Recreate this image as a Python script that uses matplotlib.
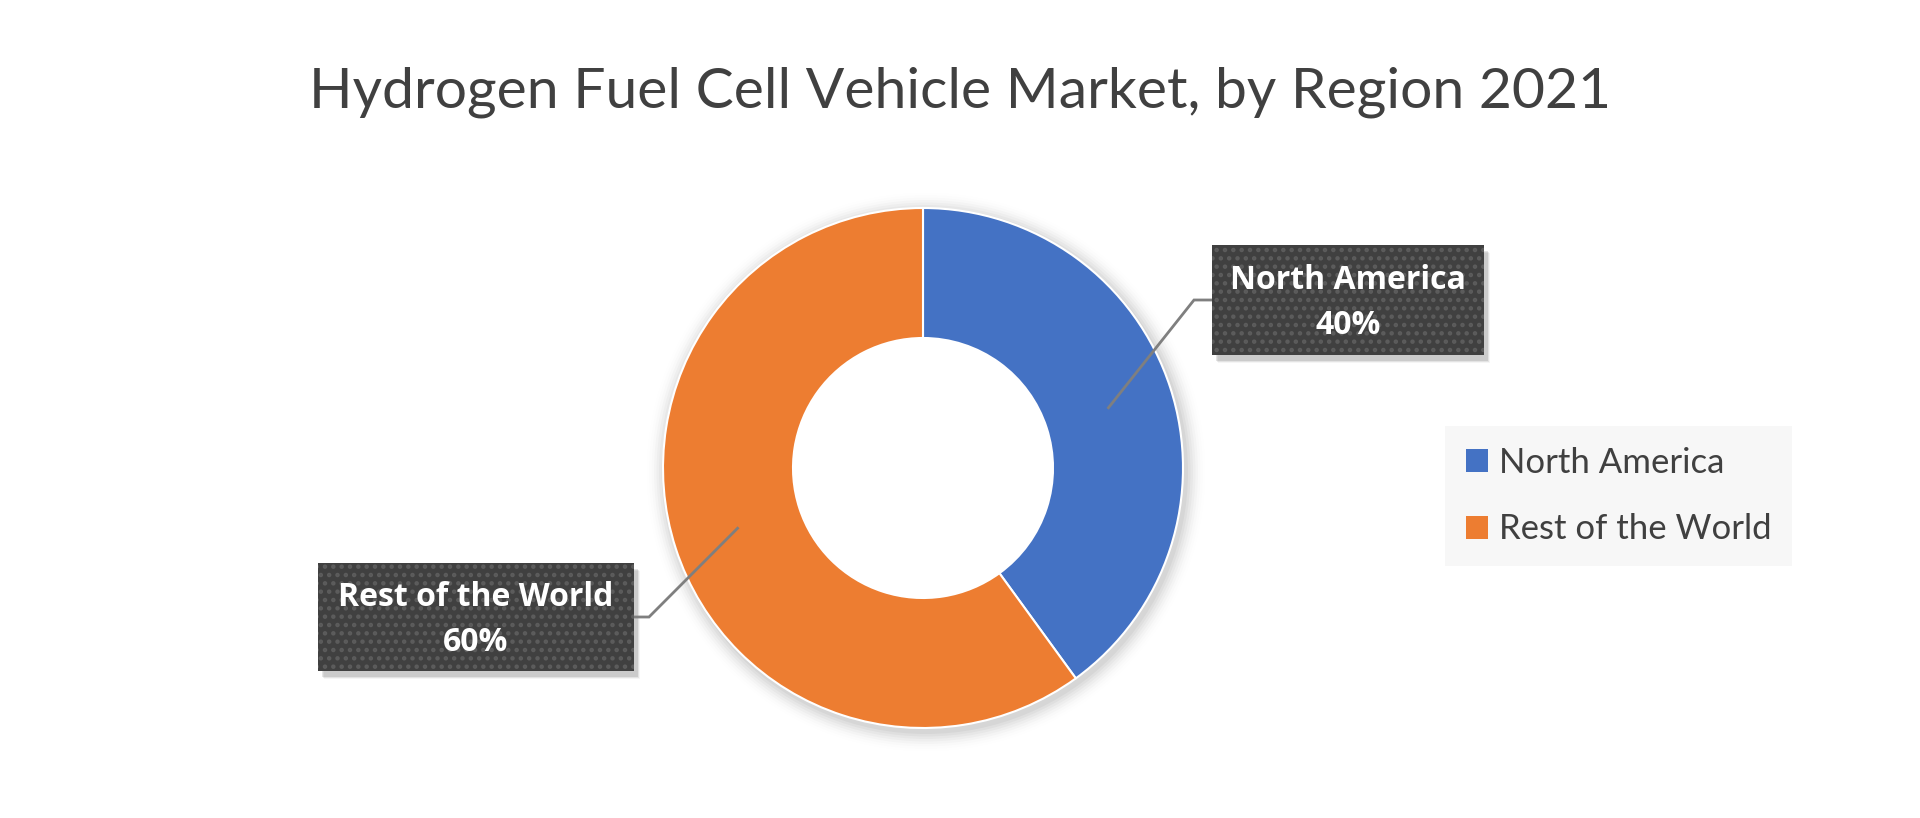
import numpy as np
import matplotlib
matplotlib.use("Agg")
import matplotlib.pyplot as plt
from matplotlib.patches import Rectangle, Circle

# data
regions = ["North America", "Rest of the World"]
shares = [40, 60]
colors = ["#4472C4", "#ED7D31"]
title = "Hydrogen Fuel Cell Vehicle Market, by Region 2021"

plt.rcParams["hatch.linewidth"] = 2.0

W, H = 1920, 818
fig = plt.figure(figsize=(W / 100, H / 100), dpi=100, facecolor="white")
ax = fig.add_axes([0, 0, 1, 1])

cx, cy, R = 923, H - 468, 260

# soft shadow round the donut
for i, a in enumerate(np.linspace(0.035, 0.005, 8)):
    ax.add_patch(Circle((cx + 3, cy - 4), R + 2 + i * 2.5, color="black", alpha=a, lw=0, zorder=1))
ax.add_patch(Circle((cx, cy), R * 0.5, color="white", zorder=1.5))

wedges, _ = ax.pie(shares, colors=colors, startangle=90, counterclock=False,
                   radius=R, center=(cx, cy), frame=True,
                   wedgeprops=dict(width=R * 0.5, edgecolor="white", linewidth=1.5))
for w in wedges:
    w.set_zorder(2)
ax.set_xlim(0, W)
ax.set_ylim(0, H)
ax.set_aspect("equal")
ax.axis("off")

# label boxes: (x0, y0 top in image px, w, h), side where the leader attaches
boxes = [(1212, 245, 272, 110, "left"), (318, 563, 316, 108, "right")]
total = sum(shares)
start = 90.0
for (bx, by, bw, bh, side), name, val in zip(boxes, regions, shares):
    sweep = 360.0 * val / total
    mid = np.deg2rad(start - sweep / 2)
    start -= sweep
    px, py = cx + 0.75 * R * np.cos(mid), cy + 0.75 * R * np.sin(mid)
    y0 = H - by - bh
    # shadow
    for k, a in enumerate([0.10, 0.07, 0.04]):
        ax.add_patch(Rectangle((bx + 4 + k, y0 - 6 - k), bw, bh, color="black", alpha=a, lw=0, zorder=3))
    ax.add_patch(Rectangle((bx, y0), bw, bh, facecolor="#404040", edgecolor="none", zorder=4))
    ax.add_patch(Rectangle((bx, y0), bw, bh, facecolor="none", edgecolor="#5c5c5c",
                           hatch="..", lw=0, zorder=4.5))
    ax.text(bx + bw / 2, y0 + bh / 2 - 3, f"{name}\n{val / total:.0%}", color="white",
            fontsize=23, fontweight="bold", family=["Open Sans", "DejaVu Sans"],
            ha="center", va="center", linespacing=1.5, zorder=5)
    ly = y0 + bh / 2
    if side == "left":
        xs = [bx, bx - 18, px]
    else:
        xs = [bx + bw, bx + bw + 15, px]
    ax.plot(xs, [ly, ly, py], color="#7f7f7f", lw=2, zorder=3.5, solid_joinstyle="miter")

ax.text(W / 2, H - 92, title, ha="center", va="center", fontsize=41,
        color="#404040", family=["Lato", "DejaVu Sans"])

leg = ax.legend(wedges, regions, loc="center left",
                bbox_to_anchor=(1445 / W, (H - 496) / H), bbox_transform=fig.transFigure,
                frameon=True, fancybox=False, facecolor="#f7f7f7", edgecolor="none",
                framealpha=1, handlelength=0.65, handleheight=0.65, handletextpad=0.3,
                labelspacing=1.0, borderpad=0.6, borderaxespad=0,
                prop=dict(family=["Lato", "DejaVu Sans"], size=25, weight="normal"))
for t in leg.get_texts():
    t.set_color("#404040")
for hnd in leg.legend_handles:
    hnd.set_edgecolor("none")

fig.savefig("out.png", dpi=100, facecolor="white")
